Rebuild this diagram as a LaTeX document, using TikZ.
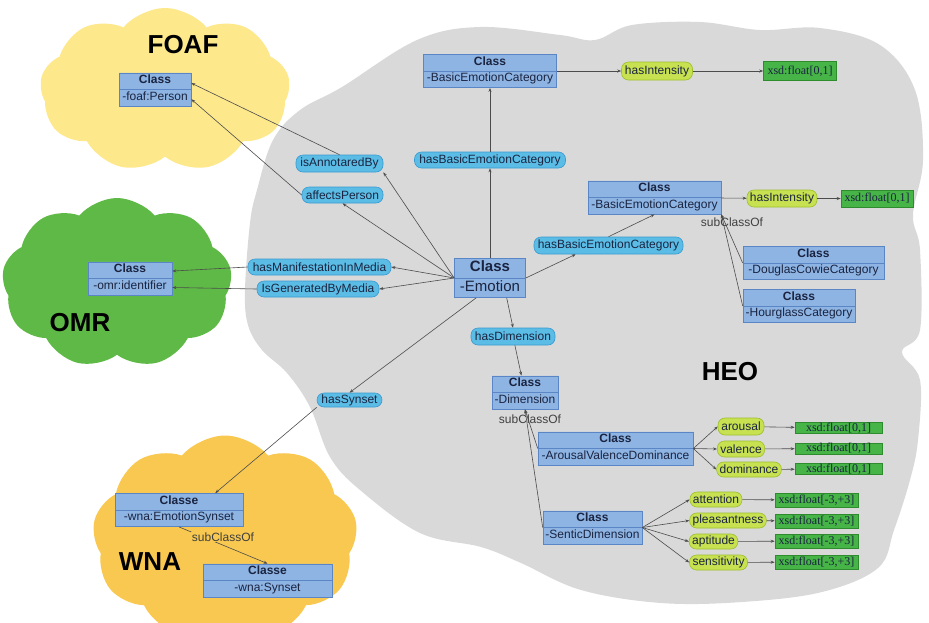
\documentclass[tikz,border=0pt]{standalone}
\usepackage{fontspec}
\setmainfont{Liberation Sans}
\newfontfamily\serifxsd{Liberation Serif}
\usepackage{tikz}
\usetikzlibrary{shapes.multipart, shapes.symbols, arrows.meta, positioning}
\definecolor{heofill}{HTML}{D9D9D9}
\definecolor{foaffill}{HTML}{FDE88C}
\definecolor{omrfill}{HTML}{5FB946}
\definecolor{wnafill}{HTML}{F8C850}
\definecolor{clsfill}{HTML}{8EB4E3}
\definecolor{clsdraw}{HTML}{5B86C5}
\definecolor{propfill}{HTML}{5BBDE6}
\definecolor{propdraw}{HTML}{3A9AD0}
\definecolor{attrfill}{HTML}{C8E150}
\definecolor{attrdraw}{HTML}{9CBF2C}
\definecolor{xsdfill}{HTML}{46B446}
\definecolor{xsddraw}{HTML}{2E8B2E}
\definecolor{ink}{HTML}{1A2440}
\newcommand{\umlcls}[2]{\textbf{#1}\strut\nodepart{two}#2\strut}
\tikzset{
  blob/.style={cloud, cloud puffs=9, cloud puff arc=100, cloud ignores aspect, inner sep=0pt},
  onto/.style={font=\fontsize{26}{28}\selectfont\bfseries},
  cls/.style={rectangle split, rectangle split parts=2, rectangle split part align=center, draw=clsdraw, fill=clsfill, line width=0.6pt, inner xsep=1pt, inner ysep=1.5pt, font=\fontsize{12}{13}\selectfont, text=ink},
  prop/.style={rectangle, rounded corners=7pt, draw=propdraw, fill=propfill, line width=0.6pt, inner xsep=3pt, inner ysep=0pt, minimum height=16pt, font=\fontsize{12}{13}\selectfont, text=ink},
  attr/.style={prop, draw=attrdraw, fill=attrfill},
  xsd/.style={rectangle, draw=xsddraw, fill=xsdfill, line width=0.6pt, inner xsep=2pt, inner ysep=0pt, minimum height=17pt, font=\serifxsd\fontsize{12}{13}\selectfont, text=ink},
  sub/.style={font=\fontsize{12}{13}\selectfont, text=black!75},
  arr/.style={-{Stealth[length=4pt, width=3pt]}, line width=0.6pt, draw=black!70},
}

\begin{document}
\begin{tikzpicture}[x=1pt, y=-1pt]
  \useasboundingbox (0,0) rectangle (929,622);
  \fill[heofill] plot[smooth cycle, tension=0.6] coordinates {
    (245,290) (250,223) (257,190) (273,140) (300,110) (342,87) (417,40)
    (480,27) (560,35) (595,40) (632,25) (700,22) (760,30) (820,28) (880,45)
    (915,90) (923,160) (913,215) (920,250) (920,330) (902,352) (920,380)
    (918,440) (910,480) (894,530) (878,568) (822,592) (742,602) (661,603)
    (581,590) (521,563) (481,547) (420,533) (360,490) (330,457) (310,407)
    (287,373) (262,350) (248,325)};
  \node[blob, fill=foaffill, minimum width=250, minimum height=164] (foaf) at (165,90) {};
  \node[blob, fill=omrfill, minimum width=230, minimum height=170] (omr) at (117,283) {};
  \node[blob, fill=wnafill, minimum width=265, minimum height=205] (wna) at (225,538) {};
  \node[onto] (foaft) at (183,45) {FOAF};
  \node[onto] (omrt) at (80,323) {OMR};
  \node[onto] (wnat) at (150,562) {WNA};
  \node[onto] (heot) at (730,372) {HEO};

  \node[cls, minimum width=71, font=\fontsize{15}{16}\selectfont] (emo) at (490,278) {\umlcls{Class}{-Emotion}};
  \node[prop, minimum width=151] (hasbec) at (490,160) {hasBasicEmotionCategory};
  \node[cls, minimum width=133] (bec) at (490,71) {\umlcls{Class}{-BasicEmotionCategory}};
  \node[attr, minimum width=71, minimum height=18] (int) at (657,71) {hasIntensity};
  \node[xsd, minimum width=73, minimum height=19] (xint) at (800,71) {xsd:float[0,1]};
  \node[cls, minimum width=133] (bec2) at (654.5,197.5) {\umlcls{Class}{-BasicEmotionCategory}};
  \node[attr, minimum width=70, minimum height=17] (int2) at (782,198.5) {hasIntensity};
  \node[xsd, minimum width=72] (xint2) at (877,198.5) {xsd:float[0,1]};
  \node[prop, minimum width=149, minimum height=17] (hasbec2) at (608.5,245.5) {hasBasicEmotionCategory};
  \node[cls, minimum width=141] (dc) at (813.5,263) {\umlcls{Class}{-DouglasCowieCategory}};
  \node[cls, minimum width=112] (hg) at (799,306) {\umlcls{Class}{-HourglassCategory}};

  \node[prop, minimum width=84, minimum height=17] (hasdim) at (513,336.5) {hasDimension};
  \node[cls, minimum width=66] (dim) at (525,392.5) {\umlcls{Class}{-Dimension}};
  \node[cls, minimum width=155] (avd) at (615.5,448.5) {\umlcls{Class}{-ArousalValenceDominance}};
  \node[cls, minimum width=99] (sen) at (592.5,527.5) {\umlcls{Class}{-SenticDimension}};
  \node[attr, minimum width=46, minimum height=17] (aro) at (741,426.5) {arousal};
  \node[attr, minimum width=46] (val) at (741,449) {valence};
  \node[attr, minimum width=62, minimum height=15] (dom) at (749,469.5) {dominance};
  \node[xsd, minimum width=87, minimum height=11] (xaro) at (838.5,428) {xsd:float[0,1]};
  \node[xsd, minimum width=87, minimum height=11] (xval) at (838.5,448.5) {xsd:float[0,1]};
  \node[xsd, minimum width=87, minimum height=11] (xdom) at (838.5,469) {xsd:float[0,1]};
  \node[attr, minimum width=52, minimum height=15] (att) at (716,499.5) {attention};
  \node[attr, minimum width=76, minimum height=15] (ple) at (728,520.5) {pleasantness};
  \node[attr, minimum width=47, minimum height=15] (apt) at (713.5,541.5) {aptitude};
  \node[attr, minimum width=57, minimum height=15] (sns) at (718.5,562.5) {sensitivity};
  \node[xsd, minimum width=83, minimum height=14] (xatt) at (816.5,500) {xsd:float[-3,+3]};
  \node[xsd, minimum width=83, minimum height=14] (xple) at (816.5,521) {xsd:float[-3,+3]};
  \node[xsd, minimum width=83, minimum height=14] (xapt) at (816.5,541) {xsd:float[-3,+3]};
  \node[xsd, minimum width=83, minimum height=14] (xsns) at (816.5,562) {xsd:float[-3,+3]};

  \node[prop, minimum width=87, minimum height=17] (annot) at (339.5,163.5) {isAnnotaredBy};
  \node[prop, minimum width=81] (aff) at (342.5,195) {affectsPerson};
  \node[prop, minimum width=143] (manif) at (319.5,267) {hasManifestationInMedia};
  \node[prop, minimum width=122] (gen) at (318,289) {IsGeneratedByMedia};
  \node[prop, minimum width=65, minimum height=14] (syn) at (349.5,400) {hasSynset};
  \node[cls, minimum width=72] (person) at (155,89.5) {\umlcls{Class}{-foaf:Person}};
  \node[cls, minimum width=84] (ident) at (130,278.5) {\umlcls{Class}{-omr:identifier}};
  \node[cls, minimum width=128] (esyn) at (179,510) {\umlcls{Classe}{-wna:EmotionSynset}};
  \node[cls, minimum width=129] (syns) at (267.5,580.5) {\umlcls{Classe}{-wna:Synset}};

  \draw[arr] (emo.north) -- (hasbec);
  \draw[arr] (hasbec) -- (bec);
  \draw[arr] (bec) -- (int);
  \draw[arr] (int) -- (xint);
  \draw[arr] (emo.east) -- (hasbec2.-165);
  \draw[arr] (hasbec2.north) -- (bec2.south);
  \draw[arr] (bec2) -- (int2);
  \draw[arr] (int2) -- (xint2);
  \draw[arr] (dc.west) -- (bec2.south east);
  \draw[arr] (hg.west) -- (bec2.south east);
  \draw[arr] (emo.-50) -- (hasdim.north);
  \draw[arr] (hasdim) -- (dim);
  \draw[arr] (avd.west) -- (dim.south);
  \draw[arr] (sen.west) -- (dim.south);
  \foreach \a/\b in {aro/xaro, val/xval, dom/xdom} {
    \draw[arr] (avd.east) -- (\a.west);
    \draw[arr] (\a) -- (\b);
  }
  \foreach \a/\b in {att/xatt, ple/xple, apt/xapt, sns/xsns} {
    \draw[arr] (sen.east) -- (\a.west);
    \draw[arr] (\a) -- (\b);
  }
  \foreach \p in {annot.south east, aff.south, manif.east, gen.east}
    \draw[arr] (emo.west) -- (\p);
  \draw[arr] (annot.north) -- (person.10);
  \draw[arr] (aff.west) -- (person.-15);
  \draw[arr] (manif.west) -- (ident.10);
  \draw[arr] (gen.west) -- (ident.-12);
  \draw[arr] (emo.-125) -- (syn.north);
  \draw[arr] (syn.south west) -- (esyn.25);
  \draw[arr] (esyn.south) -- (syns.north);

  \node[sub] (sub1) at (732,222) {subClassOf};
  \node[sub] (sub2) at (530,419) {subClassOf};
  \node[sub, fill=wnafill, inner sep=1pt] (sub3) at (223,537) {subClassOf};
\end{tikzpicture}
\end{document}
